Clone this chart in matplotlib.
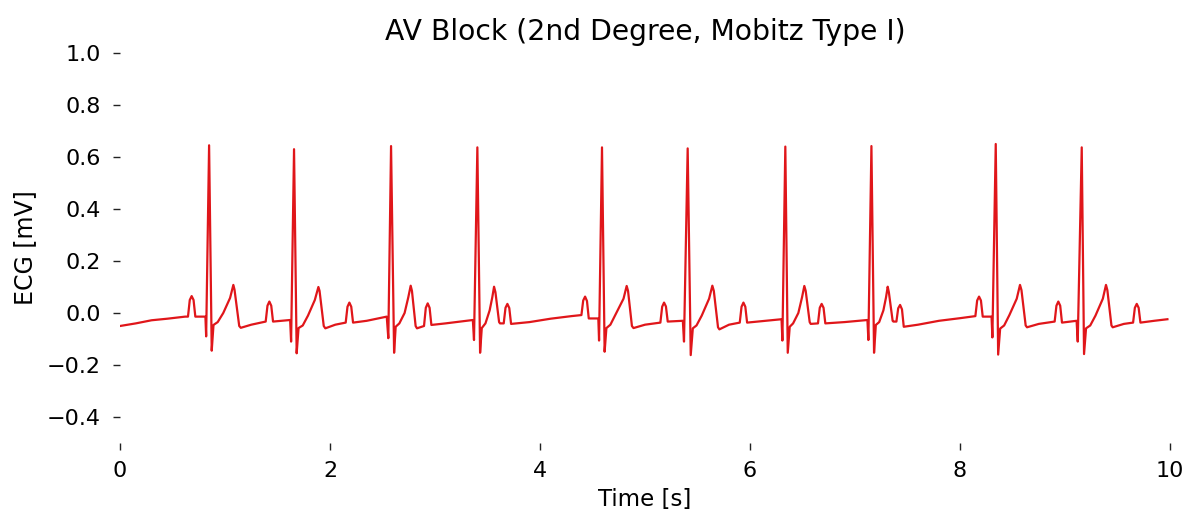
import matplotlib
matplotlib.use("Agg")
import matplotlib.pyplot as plt

# ECG trace vertices (time in s, voltage in mV)
trace_t = [
    0.000, 0.150, 0.300, 0.450, 0.620,
    0.647, 0.664, 0.682, 0.700, 0.717, 0.813,                   # P1
    0.820, 0.848, 0.873, 0.890, 0.930, 0.983, 1.048, 1.079,     # beat 1
    1.090, 1.135, 1.150, 1.250,
    1.387, 1.404, 1.422, 1.440, 1.457, 1.620,                   # P2
    1.629, 1.657, 1.682, 1.700, 1.740, 1.790, 1.855, 1.889,     # beat 2
    1.900, 1.940, 1.955, 2.050,
    2.149, 2.166, 2.184, 2.202, 2.219, 2.350, 2.540,            # P3
    2.555, 2.581, 2.610, 2.625, 2.660, 2.710, 2.745, 2.768,     # beat 3
    2.780, 2.815, 2.828,
    2.895, 2.912, 2.930, 2.948, 2.965, 3.100, 3.360,            # P4
    3.371, 3.403, 3.429, 3.445, 3.480, 3.520, 3.545, 3.562,     # beat 4
    3.575, 3.610, 3.619,
    3.654, 3.671, 3.689, 3.707, 3.724, 3.900, 4.100, 4.300,     # P5 (blocked)
    4.394, 4.411, 4.429, 4.447, 4.464, 4.555,                   # P6
    4.562, 4.590, 4.615, 4.632, 4.670, 4.720, 4.795, 4.825,     # beat 5
    4.838, 4.875, 4.890, 5.000,
    5.146, 5.163, 5.181, 5.199, 5.216, 5.360,                   # P7
    5.371, 5.406, 5.435, 5.455, 5.490, 5.540, 5.610, 5.641,     # beat 6
    5.655, 5.695, 5.708, 5.800,
    5.902, 5.919, 5.937, 5.955, 5.972, 6.100, 6.300,            # P8
    6.308, 6.336, 6.359, 6.378, 6.410, 6.460, 6.495, 6.517,     # beat 7
    6.530, 6.568, 6.578,
    6.647, 6.664, 6.682, 6.700, 6.717, 6.900, 7.118,            # P9
    7.127, 7.156, 7.181, 7.198, 7.230, 7.270, 7.295, 7.311,     # beat 8
    7.322, 7.358, 7.365,
    7.394, 7.411, 7.429, 7.447, 7.464, 7.600, 7.800, 8.000,     # P10 (blocked)
    8.146, 8.163, 8.181, 8.199, 8.216, 8.300,                   # P11
    8.308, 8.340, 8.363, 8.382, 8.420, 8.470, 8.540, 8.571,     # beat 9
    8.585, 8.625, 8.638, 8.750,
    8.901, 8.918, 8.936, 8.954, 8.971, 9.110,                   # P12
    9.121, 9.159, 9.181, 9.200, 9.240, 9.290, 9.360, 9.390,     # beat 10
    9.403, 9.442, 9.454, 9.560,
    9.648, 9.665, 9.683, 9.701, 9.718, 9.850, 9.975,            # P13
]
trace_mv = [
    -0.050, -0.040, -0.028, -0.022, -0.014,
    -0.014, 0.050, 0.065, 0.050, -0.014, -0.014,
    -0.090, 0.645, -0.145, -0.046, -0.035, 0.000, 0.058, 0.108,
    0.090, -0.050, -0.057, -0.045,
    -0.033, 0.028, 0.044, 0.028, -0.033, -0.027,
    -0.110, 0.630, -0.155, -0.058, -0.048, -0.010, 0.050, 0.100,
    0.085, -0.050, -0.059, -0.045,
    -0.037, 0.024, 0.040, 0.024, -0.037, -0.030, -0.014,
    -0.097, 0.642, -0.153, -0.053, -0.040, 0.000, 0.060, 0.105,
    0.085, -0.050, -0.059,
    -0.050, 0.020, 0.037, 0.020, -0.046, -0.040, -0.027,
    -0.104, 0.637, -0.153, -0.058, -0.040, 0.010, 0.060, 0.101,
    0.080, -0.035, -0.040,
    -0.040, 0.020, 0.035, 0.019, -0.042, -0.035, -0.022, -0.012,
    -0.008, 0.048, 0.063, 0.046, -0.021, -0.021,
    -0.106, 0.637, -0.149, -0.058, -0.045, -0.005, 0.055, 0.104,
    0.085, -0.050, -0.058, -0.045,
    -0.037, 0.024, 0.040, 0.025, -0.033, -0.030,
    -0.110, 0.633, -0.162, -0.059, -0.048, -0.010, 0.055, 0.105,
    0.085, -0.055, -0.063, -0.045,
    -0.037, 0.024, 0.040, 0.024, -0.037, -0.032, -0.024,
    -0.106, 0.640, -0.153, -0.053, -0.040, 0.000, 0.060, 0.104,
    0.085, -0.035, -0.042,
    -0.040, 0.020, 0.035, 0.020, -0.040, -0.035, -0.027,
    -0.104, 0.642, -0.153, -0.046, -0.035, 0.010, 0.060, 0.101,
    0.080, -0.030, -0.033,
    -0.033, 0.018, 0.031, 0.014, -0.053, -0.045, -0.030, -0.020,
    -0.012, 0.048, 0.063, 0.048, -0.014, -0.014,
    -0.094, 0.650, -0.160, -0.060, -0.048, -0.008, 0.055, 0.108,
    0.088, -0.048, -0.055, -0.042,
    -0.033, 0.028, 0.044, 0.028, -0.037, -0.030,
    -0.110, 0.637, -0.158, -0.059, -0.048, -0.010, 0.055, 0.108,
    0.088, -0.048, -0.055, -0.042,
    -0.037, 0.020, 0.035, 0.020, -0.037, -0.030, -0.024,
]

x_ticks = [0, 2, 4, 6, 8, 10]
y_ticks = [-0.4, -0.2, 0.0, 0.2, 0.4, 0.6, 0.8, 1.0]

plt.rcParams["font.family"] = "DejaVu Sans"
fig = plt.figure(figsize=(11.91, 5.16), dpi=100)
ax = fig.add_axes([0.1008, 0.1415, 0.8816, 0.7558])

ax.plot(trace_t, trace_mv, color="#e0161a", lw=1.6)

ax.set_xlim(0, 10)
ax.set_ylim(-0.5, 1.0)
ax.set_xticks(x_ticks)
ax.set_yticks(y_ticks)
for s in ax.spines.values():
    s.set_visible(False)
ax.tick_params(axis="both", labelsize=16, length=5, width=1, color="#222222")
ax.tick_params(axis="x", pad=8)
ax.tick_params(axis="y", pad=9)

ax.set_title("AV Block (2nd Degree, Mobitz Type I)", fontsize=20.3, pad=9)
ax.set_xlabel("Time [s]", fontsize=16.5, labelpad=5)
ax.set_ylabel("ECG [mV]", fontsize=17, labelpad=7)

fig.savefig("out.png", dpi=100)
